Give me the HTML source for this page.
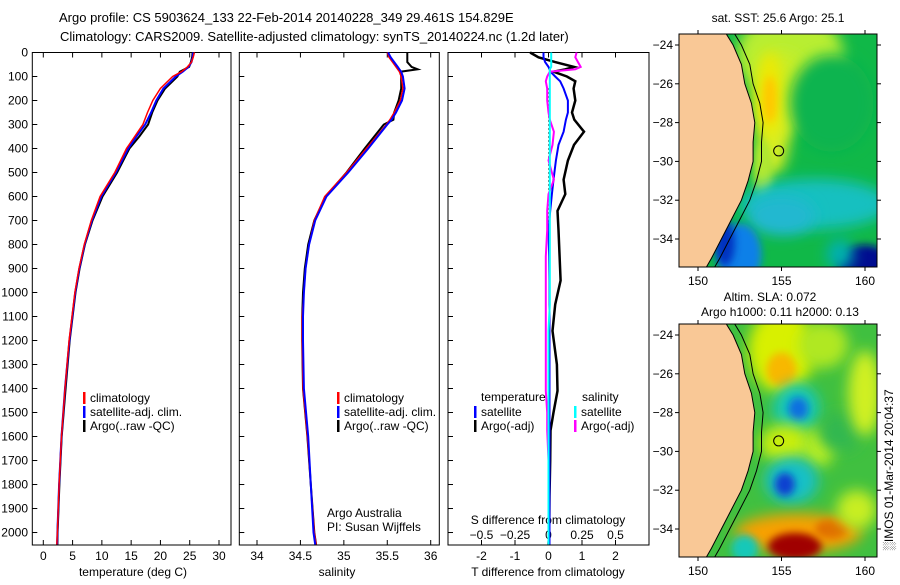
<!DOCTYPE html>
<html><head><meta charset="utf-8">
<style>
html,body{margin:0;padding:0;background:#fff;}
body{width:900px;height:580px;overflow:hidden;font-family:"Liberation Sans",sans-serif;}
svg text{font-family:"Liberation Sans",sans-serif;font-size:12px;fill:#000;}
</style></head>
<body>
<svg id="fig" width="900" height="580" viewBox="0 0 900 580" xmlns="http://www.w3.org/2000/svg">
<defs>
<filter id="blur6" x="-50%" y="-50%" width="200%" height="200%"><feGaussianBlur stdDeviation="7"/></filter>
<filter id="blur4" x="-50%" y="-50%" width="200%" height="200%"><feGaussianBlur stdDeviation="4"/></filter>
<clipPath id="clipSST"><rect x="679" y="34" width="198" height="233"/></clipPath>
<clipPath id="clipSLA"><rect x="679" y="324" width="198" height="233"/></clipPath>
</defs>
<text x="59" y="22" style="font-size:13px">Argo profile: CS 5903624_133 22-Feb-2014 20140228_349 29.461S 154.829E</text>
<text x="60" y="41" style="font-size:13px">Climatology: CARS2009. Satellite-adjusted climatology: synTS_20140224.nc (1.2d later)</text>
<g id="panels"></g>
<g id="maps"></g>
</svg>
<script>
// ---------- data ----------
const depthT = [0,20,40,60,80,100,150,200,250,300,350,400,500,600,700,800,900,1000,1200,1400,1600,1800,2000,2050];
const tempClim = [25.8,25.6,25.3,24.6,23.6,22.1,20.0,18.7,17.8,17.0,15.6,14.2,12.2,9.7,8.2,7.0,6.1,5.4,4.4,3.7,3.1,2.7,2.4,2.3];
const tempSat  = [25.6,25.5,25.3,24.8,23.8,22.6,20.5,19.3,18.4,17.4,15.9,14.5,12.4,9.9,8.3,7.05,6.15,5.45,4.45,3.7,3.1,2.7,2.4,2.35];
const tempArgo = [25.5,25.4,25.2,24.9,23.3,22.9,20.8,19.5,18.6,17.9,16.4,14.7,12.6,10.1,8.4,7.1,6.2,5.5,4.5,3.8,3.15,2.75,2.45,2.4];
const depthS = [0,20,40,60,70,80,100,150,200,250,280,300,400,500,600,700,800,900,1000,1100,1200,1400,1600,1800,2000,2050];
const salClim = [35.50,35.52,35.56,35.60,35.62,35.64,35.66,35.68,35.65,35.58,35.53,35.49,35.26,35.03,34.78,34.66,34.60,34.56,34.54,34.52,34.52,34.53,34.58,34.62,34.66,34.68];
const salSat  = [35.51,35.54,35.58,35.62,35.64,35.66,35.68,35.70,35.67,35.60,35.55,35.50,35.28,35.05,34.80,34.67,34.60,34.56,34.54,34.53,34.53,34.54,34.59,34.62,34.65,34.67];
const salArgo = [35.73,35.73,35.73,35.78,35.85,35.65,35.66,35.66,35.63,35.58,35.57,35.46,35.24,35.03,34.79,34.66,34.59,34.55,34.53,34.52,34.52,34.53,34.58,34.62,34.66,34.68];
const depthD = [0,20,40,60,70,80,100,120,150,200,250,280,330,385,450,530,590,660,740,850,950,1050,1160,1300,1410,1500,1575,1700,1850,2000,2050];
const dTsat  = [-0.15,-0.15,-0.1,0.0,0.03,0.06,0.2,0.35,0.45,0.58,0.58,0.52,0.45,0.3,0.22,0.15,0.1,0.05,0.0,0.02,0.03,0.03,0.03,0.03,0.03,0.03,0.03,0.03,0.03,0.03,0.03];
const dTargo = [-0.55,-0.3,0.2,0.76,0.5,0.15,0.55,0.8,0.75,0.8,0.7,0.77,1.06,0.76,0.58,0.45,0.5,0.27,0.3,0.33,0.36,0.2,0.12,0.25,0.27,0.15,0.06,0.05,0.03,0.02,0.0];
const dSsat  = [0.02,0.02,0.02,0.02,0.01,0.01,0.01,0.01,0.01,0.01,0.01,0.01,0.01,0.01,0.01,0.01,0.01,0.01,0.01,0.01,0.01,0.01,0.0,0.0,0.0,0.0,0.0,0.0,0.0,0.0,0.0];
const dSargo = [0.21,0.2,0.22,0.24,0.2,0.01,-0.01,-0.02,-0.01,-0.01,0.0,0.01,0.04,0.03,0.0,0.04,0.0,-0.01,-0.01,-0.02,-0.02,-0.02,-0.02,-0.02,-0.02,-0.01,-0.01,0.0,0.0,0.0,0.0];
const depthTicks = [0,100,200,300,400,500,600,700,800,900,1000,1100,1200,1300,1400,1500,1600,1700,1800,1900,2000];
const tempTicks = [0,5,10,15,20,25,30];
const salTicks = [34,34.5,35,35.5,36];
const dTTicks = [-2,-1,0,1,2];
const dSTicks = [-0.5,-0.25,0,0.25,0.5];
const lonTicks = [150,155,160];
const latTicks = [-24,-26,-28,-30,-32,-34];

const NS="http://www.w3.org/2000/svg";
function mk(tag,attrs,parent){const e=document.createElementNS(NS,tag);for(const k in attrs)e.setAttribute(k,attrs[k]);(parent||document.getElementById('panels')).appendChild(e);return e;}
const yTop=52.5, yBot=545, dMax=2052;
function yD(d){return yTop+(yBot-yTop)*d/dMax;}
function lin(d0,d1,r0,r1){return v=>r0+(v-d0)*(r1-r0)/(d1-d0);}
const xT=lin(0,30,43.3,219);
const xS=lin(34,36,257,430.7);
const xDT=lin(-3,3,448,649);
const xDS=v=>xDT(v*4);
const panels=document.getElementById('panels');

function line(xs,ds,fx,color,w,name){
  const pts=xs.map((v,i)=>fx(v).toFixed(1)+','+yD(ds[i]).toFixed(1)).join(' ');
  const p=mk('polyline',{points:pts,fill:'none',stroke:color,'stroke-width':w,'stroke-linejoin':'miter'},panels);
  
  
}
function frame(x0,x1,name){
  const r=mk('rect',{x:x0,y:yTop,width:x1-x0,height:yBot-yTop,fill:'none',stroke:'#000','stroke-width':1},panels);
  
  
}
function txt(x,y,s,anchor,name,parent){
  const t=mk('text',{x:x,y:y,'text-anchor':anchor||'start'},parent||panels);
  t.textContent=s;
  
  
  return t;
}
function xticks(vals,fx,labels,ly,name){
  vals.forEach((v,i)=>{
    const x=fx(v);
    mk('line',{x1:x,x2:x,y1:yBot,y2:yBot-5,stroke:'#000'},panels);
    mk('line',{x1:x,x2:x,y1:yTop,y2:yTop+5,stroke:'#000'},panels);
    if(labels) txt(x,ly,labels[i],'middle',name);
  });
}
frame(32.3,231,'temperature-panel');
frame(239.3,439.3,'salinity-panel');
frame(448,649,'difference-panel');
depthTicks.forEach(d=>{
  const y=yD(d);
  [32.3,239.3,448].forEach(x=>mk('line',{x1:x,x2:x+5,y1:y,y2:y,stroke:'#000'},panels));
  txt(28,y+4,String(d),'end','depth-tick-label');
});
xticks(tempTicks,xT,tempTicks.map(String),560,'temperature-tick-label');
xticks(salTicks,xS,salTicks.map(String),560,'salinity-tick-label');
xticks(dTTicks,xDT,dTTicks.map(String),560,'t-diff-tick-label');
dSTicks.forEach((v,i)=>{txt(xDS(v),539,String(v).replace('-','\u2212'),'middle','s-diff-tick-label');});
txt(133,576,'temperature (deg C)','middle','temperature-axis-title');
txt(337,576,'salinity','middle','salinity-axis-title');
txt(548,576,'T difference from climatology','middle','t-diff-axis-title');
txt(548,524,'S difference from climatology','middle','s-diff-axis-title');
line(tempArgo,depthT,xT,'#000',2,'temperature-argo-line');
line(tempSat,depthT,xT,'#0000ff',2,'temperature-satellite-line');
line(tempClim,depthT,xT,'#ff0000',1.5,'temperature-climatology-line');
line(salArgo,depthS,xS,'#000',2,'salinity-argo-line');
line(salClim,depthS,xS,'#ff0000',1.5,'salinity-climatology-line');
line(salSat,depthS,xS,'#0000ff',2,'salinity-satellite-line');
mk('line',{x1:xDT(0),x2:xDT(0),y1:yD(150),y2:yD(750),stroke:'#000','stroke-dasharray':'1,3'},panels);
line(dTargo,depthD,xDT,'#000',2.5,'t-diff-argo-line');
line(dTsat,depthD,xDT,'#0000ff',2,'t-diff-satellite-line');
line(dSargo,depthD,xDS,'#ff00ff',2,'s-diff-argo-line');
line(dSsat,depthD,xDS,'#00ffff',2,'s-diff-satellite-line');
function legItem(x,y,color,label,name){
  mk('rect',{x:x,y:y-10,width:2.5,height:12,fill:color},panels);
  txt(x+7,y,label,'start',name);
}
legItem(83,402,'#ff0000','climatology','legend-climatology');
legItem(83,416,'#0000ff','satellite-adj. clim.','legend-satellite');
legItem(83,430,'#000','Argo(..raw -QC)','legend-argo');
legItem(337,402,'#ff0000','climatology','legend-climatology-sal');
legItem(337,416,'#0000ff','satellite-adj. clim.','legend-satellite-sal');
legItem(337,430,'#000','Argo(..raw -QC)','legend-argo-sal');
txt(481,401,'temperature','start','legend-temperature-heading');
legItem(474,416,'#0000ff','satellite','legend-t-satellite');
legItem(474,430,'#000','Argo(-adj)','legend-t-argo');
txt(582,401,'salinity','start','legend-salinity-heading');
legItem(574,416,'#00ffff','satellite','legend-s-satellite');
legItem(574,430,'#ff00ff','Argo(-adj)','legend-s-argo');
txt(327,517,'Argo Australia','start','credit-argo-australia');
txt(327,531,'PI: Susan Wijffels','start','credit-pi');

// ---------- maps ----------
const maps=document.getElementById('maps');
const lonX=lin(150,160,698,865);
const coastLat=[-23.3,-24,-25,-26,-27,-28,-29,-30,-31,-32,-33,-34,-35,-35.6];
const coastLon=[151.6,152.1,152.6,152.8,153.2,153.4,153.3,153.3,153.0,152.6,152.0,151.4,150.8,150.4];
function drawMap(y0,clip,blobs,base,name){
  const latY=lin(-24,-34,y0+11,y0+205);
  const g=mk('g',{'clip-path':'url(#'+clip+')'},maps);
  
  
  mk('rect',{x:679,y:y0,width:198,height:233,fill:base},g);
  blobs.forEach(b=>{
    mk('ellipse',{cx:lonX(b[0]),cy:latY(b[1]),rx:b[2]*16.7,ry:b[3]*19.4,fill:b[4],filter:'url(#'+b[5]+')'},g);
  });
  const shelf=coastLon.map((v,i)=>lonX(v+0.5).toFixed(1)+','+latY(coastLat[i]).toFixed(1)).join(' ');
  mk('polyline',{points:shelf,fill:'none',stroke:'#000','stroke-width':1},g);
  const land='679,'+(y0-5)+' '+coastLon.map((v,i)=>lonX(v).toFixed(1)+','+latY(coastLat[i]).toFixed(1)).join(' ')+' 679,'+(y0+240);
  const l=mk('polygon',{points:land,fill:'#f9c896',stroke:'#000','stroke-width':1},g);
  
  
  const c=mk('circle',{cx:lonX(154.83),cy:latY(-29.46),r:5,fill:'none',stroke:'#000'},maps);
  
  
  mk('rect',{x:679,y:y0,width:198,height:233,fill:'none',stroke:'#000'},maps);
  lonTicks.forEach(v=>{const x=lonX(v);
    mk('line',{x1:x,x2:x,y1:y0,y2:y0-4,stroke:'#000'},maps);
    mk('line',{x1:x,x2:x,y1:y0+233,y2:y0+237,stroke:'#000'},maps);
    txt(x,y0+251,String(v),'middle','map-lon-label',maps);});
  latTicks.forEach(v=>{const y=latY(v);
    mk('line',{x1:679,x2:675,y1:y,y2:y,stroke:'#000'},maps);
    mk('line',{x1:877,x2:881,y1:y,y2:y,stroke:'#000'},maps);
    txt(673,y+4,String(v).replace('-','\u2212'),'end','map-lat-label',maps);});
}
drawMap(34,'clipSST',[
  [155.5,-24.5,3.2,2.2,'#b8ee30','blur6'],[155,-26.5,1.8,2.2,'#c8ee28','blur6'],[154.5,-28.5,1.0,2.2,'#d8ee20','blur6'],
  [154.3,-26.5,0.7,2.2,'#f0e800','blur6'],[154.3,-26.8,0.4,1.2,'#ffc800','blur4'],[153.9,-30.5,0.6,1.5,'#b0e830','blur4'],
  [158,-27,2.5,2.5,'#10b450','blur6'],
  [157,-32.2,4.5,1.3,'#18c0c0','blur6'],[155,-32.8,2,1,'#20b8d0','blur6'],[152.5,-34.8,1.3,1.6,'#1080e8','blur4'],[151.6,-34.2,0.6,1.2,'#0030c0','blur4'],
  [160,-35.3,1.6,1.0,'#000e90','blur4'],[158.5,-34.8,0.8,0.8,'#00b0b0','blur6']],'#10b848','sst-map');
drawMap(324,'clipSLA',[
  [155,-24.8,2,2.2,'#d8f000','blur6'],[155,-25.8,0.9,0.9,'#f8b800','blur4'],[157.5,-24.5,1.5,1.2,'#b0e820','blur6'],
  [155.9,-27.8,1.4,1.3,'#18c8b8','blur6'],[156,-27.8,0.6,0.6,'#1070e0','blur4'],
  [155.2,-29.6,1.5,1.0,'#c8ee10','blur6'],[157.2,-29.8,1.0,1.0,'#b8ee20','blur6'],[158.5,-29,1.3,1.0,'#30b850','blur6'],[160,-27,1,2.2,'#d0f020','blur6'],
  [155.6,-31.5,1.6,1.2,'#18c0c8','blur6'],[155.2,-31.7,0.6,0.6,'#1040d0','blur4'],
  [156,-34.2,3.8,1.0,'#f8a000','blur6'],[155.8,-34.9,1.6,0.7,'#a00000','blur4'],[158,-34.0,1,0.5,'#e07000','blur4'],
  [152.8,-35,0.8,0.7,'#18c8b8','blur4'],[159.5,-33,1.2,1,'#c8ee20','blur6']],'#40c040','sla-map');
txt(778,22,'sat. SST: 25.6 Argo: 25.1','middle','sst-map-title',maps);
txt(770,301,'Altim. SLA: 0.072','middle','sla-map-title-1',maps);
txt(780,316,'Argo h1000: 0.11 h2000: 0.13','middle','sla-map-title-2',maps);
const rt=txt(0,0,'\u2591IMOS 01-Mar-2014 20:04:37','middle','imos-timestamp',maps);
rt.setAttribute('transform','translate(893,470) rotate(-90)');
</script>
</body></html>
